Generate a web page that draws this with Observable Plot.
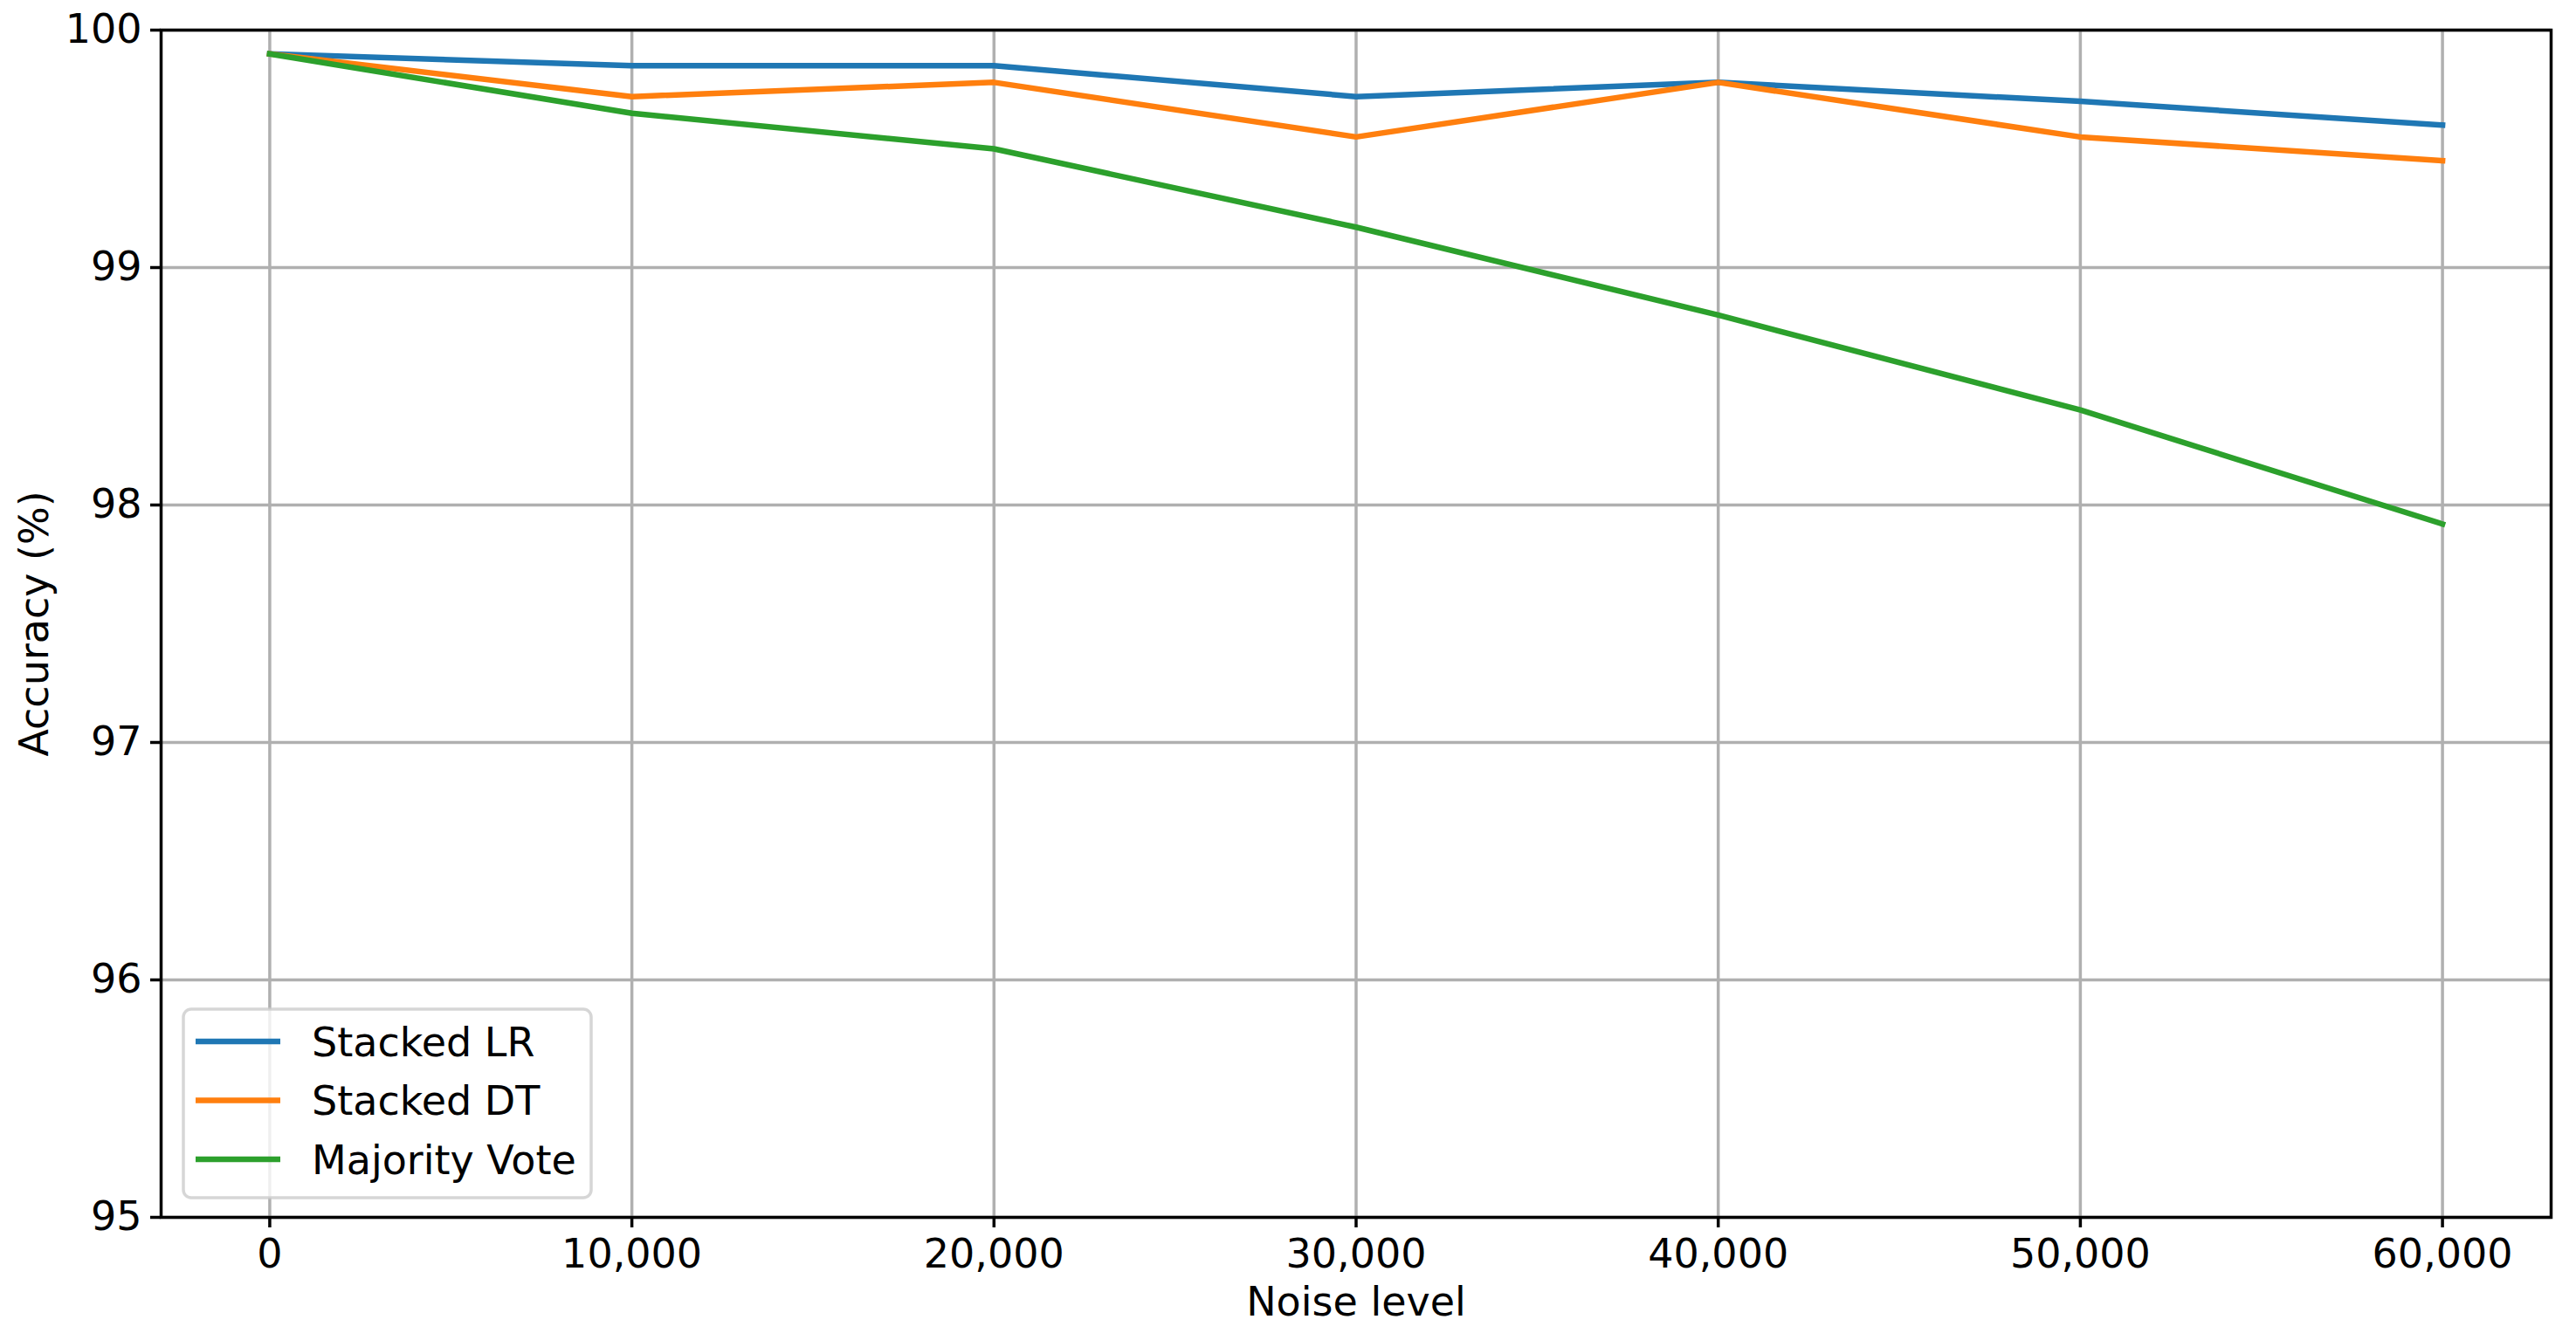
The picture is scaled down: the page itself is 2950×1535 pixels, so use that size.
<!DOCTYPE html>
<html>
<head>
<meta charset="utf-8">
<script src="https://cdn.jsdelivr.net/npm/d3@7"></script>
<script src="https://cdn.jsdelivr.net/npm/@observablehq/plot@0.6"></script>
<style>
  html, body { margin: 0; padding: 0; background: #ffffff; }
  #chart { width: 2950px; height: 1535px; }
</style>
</head>
<body>
<div id="chart"></div>
<script>
// ---- data ----
const noiseLevels = [0, 10000, 20000, 30000, 40000, 50000, 60000];
const stackedLR    = [99.90, 99.85, 99.85, 99.72, 99.78, 99.70, 99.60];
const stackedDT    = [99.90, 99.72, 99.78, 99.55, 99.78, 99.55, 99.45];
const majorityVote = [99.90, 99.65, 99.50, 99.17, 98.80, 98.40, 97.92];
const seriesNames  = ["Stacked LR", "Stacked DT", "Majority Vote"];
const seriesColors = ["#1f77b4", "#ff7f0e", "#2ca02c"];
const yTicks = [95, 96, 97, 98, 99, 100];
const xLabel = "Noise level";
const yLabel = "Accuracy (%)";

const seriesValues = [stackedLR, stackedDT, majorityVote];
const rows = [];
seriesNames.forEach((name, i) => {
  noiseLevels.forEach((x, j) => rows.push({series: name, noise: x, acc: seriesValues[i][j]}));
});

const W = 2950, H = 1535;
const mL = 184, mR = 29, mT = 34, mB = 141;
const FONT = 46;
const gridStyle = {stroke: "#b0b0b0", strokeOpacity: 1, strokeWidth: 3.5};

const chart = Plot.plot({
  width: W,
  height: H,
  marginLeft: mL,
  marginRight: mR,
  marginTop: mT,
  marginBottom: mB,
  style: {fontFamily: "'DejaVu Sans', sans-serif", fontSize: FONT + "px", color: "#000", background: "#fff"},
  x: {domain: [-3000, 63000]},
  y: {domain: [95, 100]},
  color: {domain: seriesNames, range: seriesColors},
  marks: [
    Plot.gridX(noiseLevels, gridStyle),
    Plot.gridY(yTicks, gridStyle),
    Plot.line(rows, {x: "noise", y: "acc", z: "series", stroke: "series", strokeWidth: 6.5, strokeLinejoin: "round", strokeLinecap: "square"}),
    Plot.frame({stroke: "#000", strokeWidth: 3.5}),
    Plot.axisX(noiseLevels, {tickFormat: d3.format(","), tickSize: 12, tickPadding: 13, strokeWidth: 3.5, fontSize: FONT, label: null}),
    Plot.axisY(yTicks, {tickFormat: d => String(d), tickSize: 12, tickPadding: 10, strokeWidth: 3.5, fontSize: FONT, label: null}),
    Plot.text([xLabel], {frameAnchor: "bottom", dy: 98, text: d => d, fontSize: FONT, lineAnchor: "middle", textAnchor: "middle"}),
    Plot.text([yLabel], {frameAnchor: "left", dx: -144, rotate: -90, text: d => d, fontSize: FONT, lineAnchor: "middle", textAnchor: "middle"})
  ]
});

document.getElementById("chart").appendChild(chart);

// ---- legend (matplotlib style, lower left inside the axes) ----
const svg = d3.select(chart);
const lg = svg.append("g").attr("class", "legend");
lg.append("rect")
  .attr("x", 210).attr("y", 1156)
  .attr("width", 467).attr("height", 216)
  .attr("rx", 9).attr("ry", 9)
  .attr("fill", "#ffffff").attr("fill-opacity", 0.8)
  .attr("stroke", "#cccccc").attr("stroke-opacity", 0.8).attr("stroke-width", 3.5);
seriesNames.forEach((name, i) => {
  const cy = 1193 + i * 67.5;
  lg.append("line")
    .attr("x1", 224).attr("x2", 321)
    .attr("y1", cy).attr("y2", cy)
    .attr("stroke", seriesColors[i]).attr("stroke-width", 6.5);
  lg.append("text")
    .attr("x", 357).attr("y", cy)
    .attr("dy", "0.36em")
    .attr("font-size", FONT)
    .attr("text-anchor", "start")
    .attr("fill", "#000")
    .text(name);
});
</script>
</body>
</html>
